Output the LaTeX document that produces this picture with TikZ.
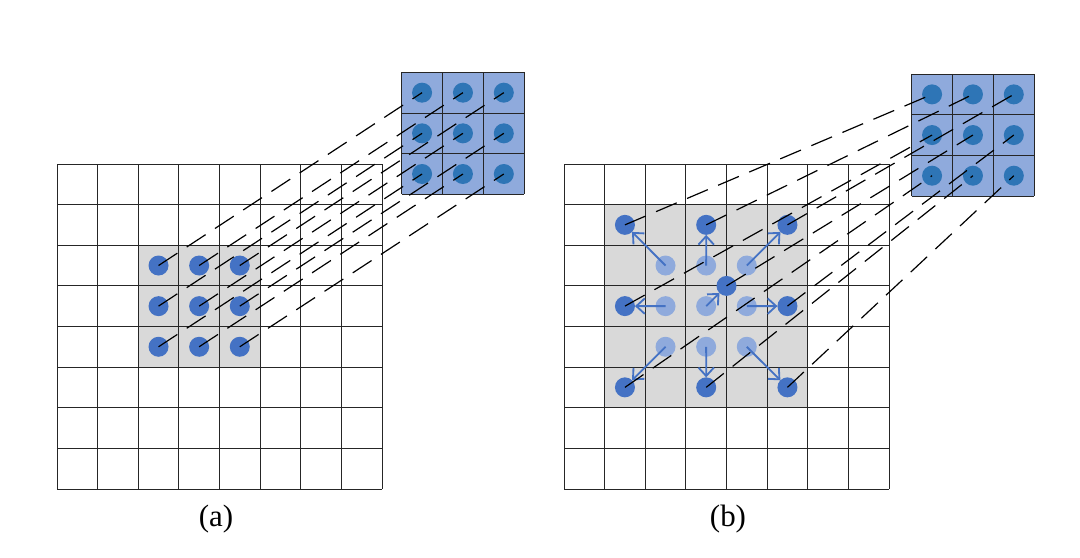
\documentclass[tikz,border=0pt]{standalone}
\usepackage{fontspec}
\setmainfont{Liberation Serif}
\usetikzlibrary{arrows.meta}
\definecolor{cellgray}{HTML}{D9D9D9}
\definecolor{dotblue}{HTML}{4472C4}
\definecolor{paleblue}{HTML}{8FAADC}
\definecolor{deepblue}{HTML}{2E75B6}
\begin{document}
\begin{tikzpicture}[x=0.025cm, y=-0.025cm, line join=miter,
        dot/.style={circle, fill=dotblue, minimum size=0.5cm, inner sep=0pt, outer sep=0pt},
        ghost/.style={dot, fill=paleblue},
        kdot/.style={dot, fill=deepblue},
        link/.style={black, line width=0.85pt, dash pattern=on 16pt off 8pt},
        offsetarrow/.style={-{Straight Barb[length=6pt, width=11pt]}, dotblue, line width=1.3pt},
        gridline/.style={line width=0.6pt, black!85},
        caption/.style={font=\fontsize{22}{24}\selectfont}]
    \useasboundingbox (0,0) rectangle (1080,558);
    % (a) input grid
    \fill[cellgray] (138.25,245.25) rectangle (260.1,367.1);
    \foreach \k in {0,...,8} {
        \draw[gridline] (57+40.625*\k,164) -- (57+40.625*\k,489);
        \draw[gridline] (57,164+40.625*\k) -- (382,164+40.625*\k);
    }
    % (b) input grid
    \fill[cellgray] (604.6,204.6) rectangle (807.75,407.75);
    \foreach \k in {0,...,8} {
        \draw[gridline] (564+40.625*\k,164) -- (564+40.625*\k,489);
        \draw[gridline] (564,164+40.625*\k) -- (889,164+40.625*\k);
    }
    % kernels
    \fill[paleblue] (401.7,72.3) rectangle (524.3,194.3);
    \fill[paleblue] (911.7,74) rectangle (1034.3,196);
    \foreach \k in {0,...,3} {
        \draw[gridline] (401.7+40.87*\k,72.3) -- (401.7+40.87*\k,194.3);
        \draw[gridline] (401.7,72.3+40.67*\k) -- (524.3,72.3+40.67*\k);
        \draw[gridline] (911.7+40.87*\k,74) -- (911.7+40.87*\k,196);
        \draw[gridline] (911.7,74+40.67*\k) -- (1034.3,74+40.67*\k);
    }
    \foreach \i in {1,2,3} {
        \foreach \j in {1,2,3} {
            \node[dot] (a\i\j) at (117.9+40.625*\j,224.9+40.625*\i) {};
            \node[kdot] (ka\i\j) at (381.2+40.87*\j,52+40.67*\i) {};
            \node[kdot] (kb\i\j) at (891.2+40.87*\j,53.7+40.67*\i) {};
            \node[ghost] (g\i\j) at (624.9+40.625*\j,224.9+40.625*\i) {};
        }
    }
    % deformed sampling points
    \foreach \i in {1,2,3} {
        \foreach \j in {1,2,3} {
            \ifnum\i\j=22\else
                \node[dot] (d\i\j) at (543.7+81.25*\j,143.6+81.25*\i) {};
            \fi
        }
    }
    \node[dot] (d22) at (726.5,285.9) {};
    \foreach \i in {1,2,3} {
        \foreach \j in {1,2,3} {
            \draw[offsetarrow] (g\i\j.center) -- (d\i\j);
            \draw[link] (a\i\j.center) -- (ka\i\j.center);
            \draw[link] (d\i\j.center) -- (kb\i\j.center);
        }
    }
    \node[caption] (capa) at (216,519) {(a)};
    \node[caption] (capb) at (728,519) {(b)};
\end{tikzpicture}
\end{document}
